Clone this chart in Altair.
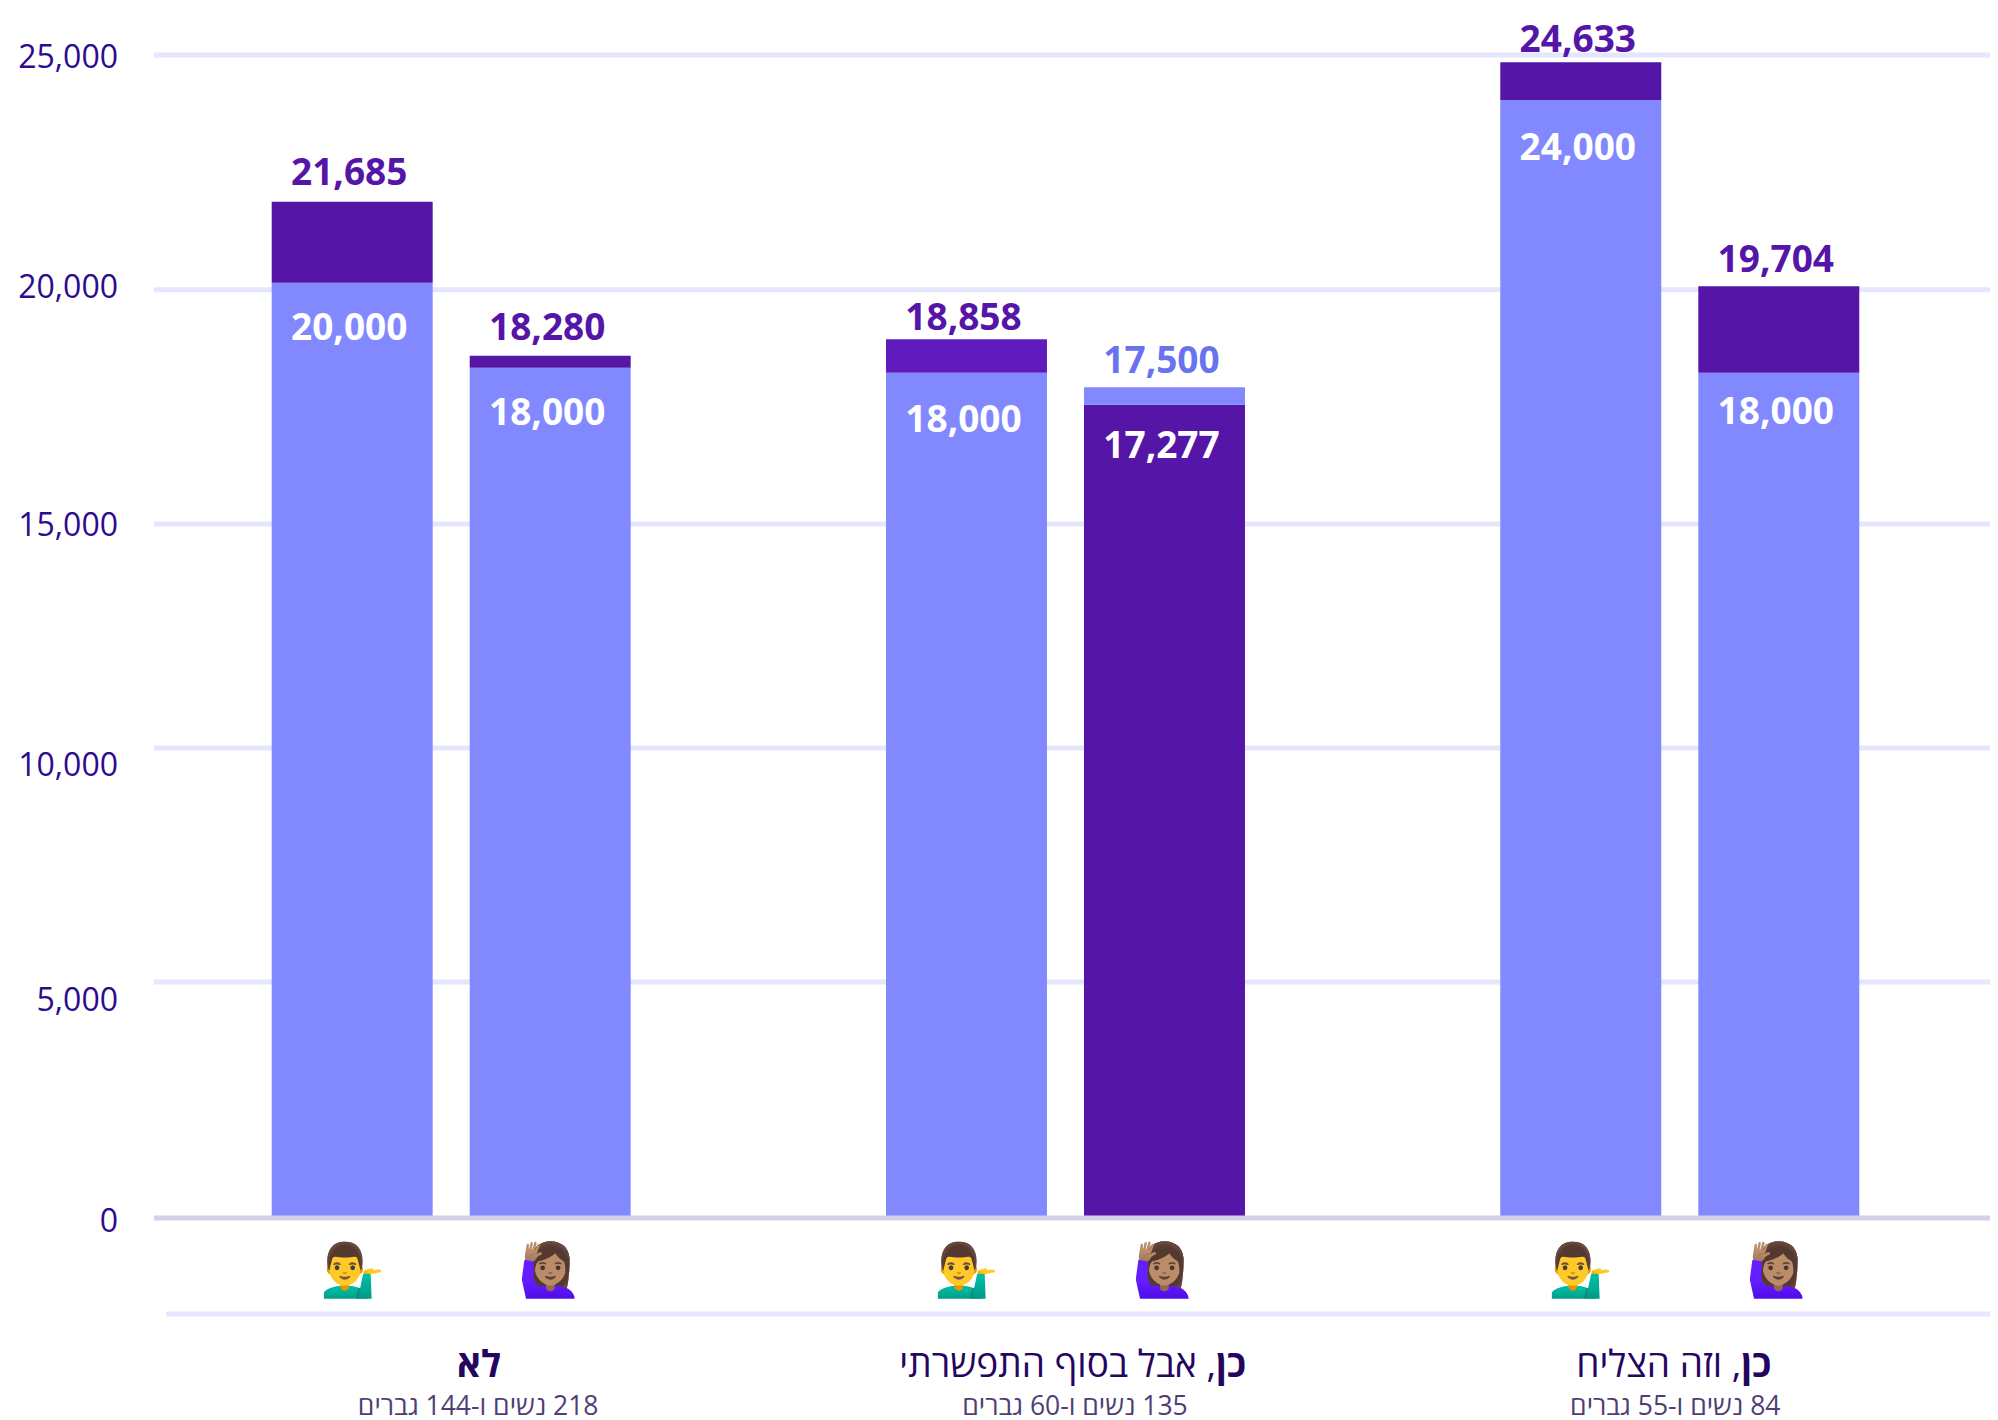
import altair as alt
import pandas as pd

# Categories
groups = ["לא", "כן, אבל בסוף התפשרתי", "כן, וזה הצליח"]
genders = ["גברים", "נשים"]
emoji = {"גברים": "\U0001F481\u200D\u2642\uFE0F", "נשים": "\U0001F64B\U0001F3FD\u200D\u2640\uFE0F"}

seg_group = [0, 0, 0, 0, 1, 1, 1, 1, 2, 2, 2, 2]
seg_gender = [0, 0, 1, 1, 0, 0, 1, 1, 0, 0, 1, 1]
seg_from = [0, 20097, 0, 18267, 0, 18159, 0, 17470, 0, 24024, 0, 18159]
seg_to = [20097, 21841, 18267, 18525, 18159, 18878, 17470, 17845, 24024, 24842, 18159, 20019]
seg_tone = ["light", "dark", "light", "dark", "light", "mid", "dark", "light", "light", "dark", "light", "dark"]
tones = {"light": "#8289ff", "dark": "#5516a8", "mid": "#601bbd"}

# Value labels
lab_group = seg_group
lab_gender = seg_gender
lab_text = ["20,000", "21,685", "18,000", "18,280", "18,000", "18,858", "17,277", "17,500", "24,000", "24,633", "18,000", "19,704"]
lab_y = [18860, 22200, 17040, 18860, 16880, 19075, 16330, 18160, 22740, 25060, 17050, 20330]
lab_tone = ["white", "purple", "white", "purple", "white", "purple", "white", "blue", "white", "purple", "white", "purple"]
lab_colors = {"white": "#ffffff", "purple": "#5516a8", "blue": "#6a73ee"}

# Gridlines and the tick labels, which do not sit on the same heights in the picture
grid_values = [25000, 19946, 14901, 10077, 5039]
base_value = [-43]
tick_text = ["25,000", "20,000", "15,000", "10,000", "5,000", "0"]
tick_y = [24712, 19770, 14640, 9480, 4410, -344]

# Group captions
title_bold = ["לא", "כן", "כן"]
title_rest = ["", "\u200f, אבל בסוף התפשרתי", "\u200f, וזה הצליח"]
subtitles = ["\u200f218 נשים ו-144 גברים", "\u200f135 נשים ו-60 גברים", "\u200f84 נשים ו-55 גברים"]
title_dx = [50, 180.5, 91.5]
sub_dx = [27, 9.5, -4.5]

FONT = "Open Sans"
W, H = 1836, 1161

seg = pd.DataFrame({
    "group": [groups[i] for i in seg_group],
    "gender": [genders[i] for i in seg_gender],
    "a": seg_from, "b": seg_to, "tone": seg_tone,
})
lab = pd.DataFrame({
    "group": [groups[i] for i in lab_group],
    "gender": [genders[i] for i in lab_gender],
    "text": lab_text, "y": lab_y, "tone": lab_tone,
})
emo = pd.DataFrame([{"group": g, "gender": s, "e": emoji[s]} for g in groups for s in genders])

xs = alt.X("group:N", sort=groups, axis=None,
           scale=alt.Scale(paddingInner=0.4156, paddingOuter=0.2022, align=0.4738))
xo = alt.XOffset("gender:N", sort=genders, scale=alt.Scale(paddingInner=0.187, paddingOuter=0))
ys = alt.Scale(domain=[0, 25000], nice=False, clamp=False)

grid = alt.Chart(pd.DataFrame({"v": grid_values})).mark_rule(color="#e4e6fd", strokeWidth=5).encode(
    y=alt.Y("v:Q", scale=ys, axis=None), x=alt.value(0), x2=alt.value(W))
bars = alt.Chart(seg).mark_bar().encode(
    x=xs, xOffset=xo,
    y=alt.Y("a:Q", scale=ys, axis=None, stack=None), y2="b:Q",
    color=alt.Color("tone:N", legend=None,
                    scale=alt.Scale(domain=list(tones), range=list(tones.values()))))
base = alt.Chart(pd.DataFrame({"v": base_value})).mark_rule(color="#d5cfe6", strokeWidth=5).encode(
    y=alt.Y("v:Q", scale=ys, axis=None), x=alt.value(0), x2=alt.value(W))
lower = alt.Chart(pd.DataFrame({"g": groups[:1]})).mark_rule(color="#e4e6fd", strokeWidth=5).encode(
    y=alt.value(1259), x=alt.value(12), x2=alt.value(W))
ticks = alt.Chart(pd.DataFrame({"t": tick_text, "y": tick_y})).mark_text(
    font=FONT, fontSize=32, align="right", baseline="alphabetic", color="#2d0b8e").encode(
    x=alt.value(-36), y=alt.Y("y:Q", scale=ys, axis=None), text="t:N")
labels = alt.Chart(lab).mark_text(
    font=FONT, fontSize=37, fontWeight="bold", align="center", baseline="alphabetic", dx=-3).encode(
    x=xs, xOffset=xo, y=alt.Y("y:Q", scale=ys, axis=None), text="text:N",
    color=alt.Color("tone:N", legend=None,
                    scale=alt.Scale(domain=list(lab_colors), range=list(lab_colors.values()))))
faces = alt.Chart(emo).mark_text(fontSize=52, align="center", baseline="middle").encode(
    x=xs, xOffset=xo, y=alt.value(1217), text="e:N")

captions = []
for i, g in enumerate(groups):
    row = pd.DataFrame({"group": [g], "bold": [title_bold[i]], "rest": [title_rest[i]], "sub": [subtitles[i]]})
    captions.append(alt.Chart(row).mark_text(
        font=FONT, fontSize=37, fontWeight="bold", align="right", baseline="alphabetic",
        color="#24065f", dx=title_dx[i]).encode(x=xs, y=alt.value(1322), text="bold:N"))
    if title_rest[i]:
        captions.append(alt.Chart(row).mark_text(
            font=FONT, fontSize=37, align="right", baseline="alphabetic",
            color="#24065f", dx=title_dx[i] - 30).encode(x=xs, y=alt.value(1322), text="rest:N"))
    captions.append(alt.Chart(row).mark_text(
        font=FONT, fontSize=26.5, align="center", baseline="alphabetic",
        color="#4d3f75", dx=sub_dx[i]).encode(x=xs, y=alt.value(1360), text="sub:N"))

chart = alt.layer(grid, bars, base, lower, ticks, labels, faces, *captions).resolve_scale(
    color="independent"
).properties(
    width=W, height=H, background="#ffffff",
    padding={"left": 146, "top": 47, "right": 0, "bottom": 204},
    autosize=alt.AutoSizeParams(type="none"),
).configure_view(stroke=None)

chart.save("out.html", embed_options={"renderer": "svg", "actions": False})
